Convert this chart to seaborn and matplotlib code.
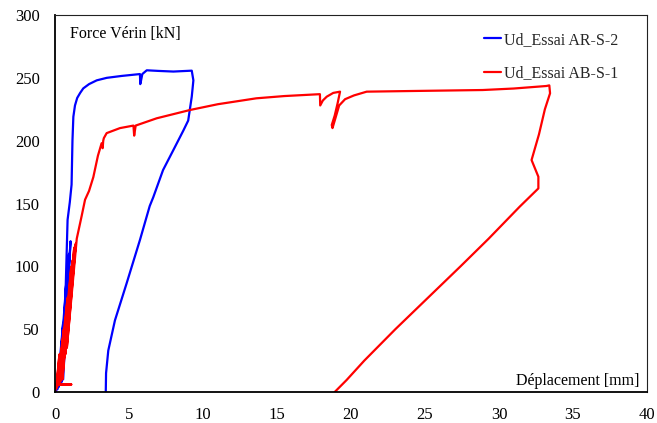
import matplotlib
matplotlib.use("Agg")
import matplotlib.pyplot as plt
import seaborn as sns
import pandas as pd

# Essai AR-S-2 : déplacement [mm] / force vérin [kN]
ar_x = [0.05, 0.35, 0.15, 0.55, 0.25, 0.75, 0.35, 0.95, 0.45, 1.05, 0.55, 0.85,
        1.0, 1.12, 1.18, 1.24, 1.35, 1.5, 1.7, 1.91, 2.3, 2.82, 3.5, 4.5, 5.74,
        5.76, 5.8, 5.9, 6.2, 7.0, 8.0, 9.24, 9.35, 9.3, 9.24, 9.0, 8.67, 8.0,
        7.3, 6.64, 6.4, 5.74, 4.84, 4.05, 3.6, 3.45, 3.43]
ar_y = [0, 30, 2, 55, 4, 85, 6, 110, 8, 120, 10, 137,
        151, 165, 200, 219, 228, 234, 238, 241.6, 245, 248, 250, 251.5, 253,
        245, 247, 253, 256, 255.5, 255, 255.7, 248, 242, 235, 216, 208, 192.6,
        176.6, 155, 148, 121, 86.5, 57, 33, 15, 0]

# Essai AB-S-1 : déplacement [mm] / force vérin [kN]
ab_x = [0.0, 0.1, 1.1, 0.1, 0.3, 0.1, 0.6, 0.2, 0.85, 0.35, 1.1, 0.5, 1.3, 0.7,
        1.2, 0.55, 1.4, 0.8, 1.47, 1.8, 2.03, 2.3, 2.59, 2.9, 3.15, 3.22, 3.26,
        3.3, 3.49, 4.39, 5.3, 5.35, 5.45, 6.87, 9.12, 11.0, 13.6, 15.5, 17.9,
        17.92, 18.1, 18.36, 18.8, 19.26, 19.1, 18.9, 18.7, 18.75, 18.95, 19.2,
        19.6, 20.2, 21.06, 24.0, 28.9, 31.0, 33.2, 33.4, 33.45, 33.1, 32.7,
        32.2, 32.66, 32.66, 31.4, 29.3, 27.4, 25.2, 23.0, 20.9, 19.7, 18.9]
ab_y = [0, 6, 6, 6, 30, 3, 50, 5, 75, 8, 100, 10, 115, 30,
        105, 20, 118, 35, 122, 140, 153, 160, 171, 188, 198, 194, 200,
        202, 206, 210, 212, 204, 212, 217.8, 224.4, 229, 233.7, 235.5, 237,
        228, 232, 235, 238, 239, 230, 220, 212.5, 210, 218, 228,
        233, 236, 239, 239.5, 240.3, 241.5, 243.5, 244, 237.7, 225, 205,
        184.6, 171.3, 162, 147.5, 122, 100, 75, 50, 25, 9.5, 0]

series_names = ["Ud_Essai AR-S-2", "Ud_Essai AB-S-1"]
series_colors = ["#0000FF", "#FF0000"]

x_ticks = [0, 5, 10, 15, 20, 25, 30, 35, 40]
y_ticks = [0, 50, 100, 150, 200, 250, 300]

frames = []
for name, xs, ys in [(series_names[0], ar_x, ar_y), (series_names[1], ab_x, ab_y)]:
    df = pd.DataFrame({"x": xs, "y": ys})
    df["essai"] = name
    frames.append(df)
data = pd.concat(frames, ignore_index=True)

sns.set_theme(style="white")
plt.rcParams["font.family"] = ["Liberation Serif", "DejaVu Serif"]

fig = plt.figure(figsize=(6.57, 4.23), dpi=100)
ax = fig.add_axes([55 / 657, 1 - 392 / 423, (647 - 55) / 657, (392 - 15) / 423])

sns.lineplot(data=data, x="x", y="y", hue="essai", hue_order=series_names,
             palette=series_colors, sort=False, estimator=None, units="essai",
             linewidth=1.6, ax=ax)

ax.set_xlim(0, 40)
ax.set_ylim(0, 300)
ax.set_xticks(x_ticks)
ax.set_yticks(y_ticks)
ax.tick_params(axis="both", length=0, labelsize=12, colors="black")
ax.tick_params(axis="x", pad=11)
ax.tick_params(axis="y", pad=11)
ax.set_xlabel("")
ax.set_ylabel("")

for side in ["left", "bottom"]:
    ax.spines[side].set_color("black")
    ax.spines[side].set_linewidth(1.3)
for side in ["top", "right"]:
    ax.spines[side].set_color("#222222")
    ax.spines[side].set_linewidth(0.8)

ax.text(70 / 657, 1 - 34 / 423, "Force Vérin [kN]", transform=fig.transFigure,
        fontsize=11.5, ha="left", va="center", color="black")
ax.text(640 / 657, 1 - 381 / 423, "Déplacement [mm]", transform=fig.transFigure,
        fontsize=11.5, ha="right", va="center", color="black")

ax.legend(loc="upper left", bbox_to_anchor=(484 / 657, 1 - 32 / 423),
          bbox_transform=fig.transFigure, frameon=False, fontsize=11.5,
          handlelength=1.05, handletextpad=0.2, labelspacing=1.1,
          borderpad=0, borderaxespad=0)

fig.savefig("out.png", dpi=100)
